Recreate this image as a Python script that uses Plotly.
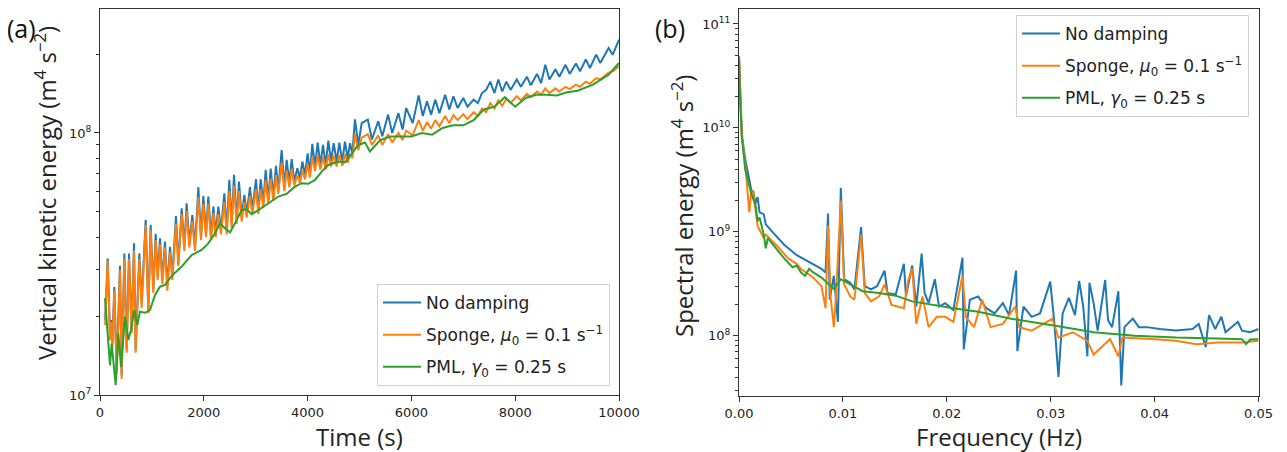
import plotly.graph_objects as go

# ---------------- Panel (a): vertical kinetic energy vs time ----------------
time_s = [100, 148, 193, 212, 238, 276, 321, 385, 417, 469, 514, 559, 610, 655, 687, 758, 803, 880, 931, 976,
          1027, 1073, 1111, 1156, 1201, 1252, 1297, 1349, 1394, 1464, 1509, 1574, 1625, 1670, 1721, 1779, 1830,
          1895, 1946, 1991, 2042, 2087, 2139, 2184, 2229, 2280, 2331, 2396, 2441, 2492, 2537, 2582, 2633, 2678,
          2730, 2781, 2826, 2890, 2935, 3006, 3051, 3096, 3147, 3192, 3244, 3289, 3340, 3391, 3436, 3500, 3552,
          3597, 3648, 3693, 3744, 3802, 3854, 3899, 3950, 4001, 4046, 4091, 4143, 4194, 4245, 4297, 4348, 4400,
          4451, 4502, 4560, 4611, 4669, 4720, 4772, 4817, 4862, 4913, 4977, 5042,
          5160, 5240, 5360, 5440, 5550, 5630, 5750, 5830, 5900, 6025, 6140, 6220, 6300, 6380, 6460, 6540, 6650,
          6730, 6810, 6890, 7000, 7080, 7200, 7280, 7360, 7440, 7520, 7600, 7675, 7750, 7830, 7910, 8030, 8110,
          8225, 8300, 8420, 8500, 8580, 8660, 8775, 8850, 8970, 9050, 9170, 9250, 9360, 9440, 9560, 9640, 9800,
          9880, 10000]

ke_no_damping = [1.93e7, 3.32e7, 1.67e7, 1.93e7, 1.57e7, 2.58e7, 1.245e7, 3.11e7, 1.19e7, 3.47e7, 1.49e7, 3.47e7,
                 1.77e7, 3.79e7, 1.49e7, 3.47e7, 2.24e7, 4.66e7, 2.11e7, 4.46e7, 2.52e7, 4.12e7, 2.83e7, 3.96e7,
                 2.75e7, 3.85e7, 2.59e7, 3.68e7, 2.83e7, 4.82e7, 3.18e7, 5.16e7, 3.68e7, 5.39e7, 3.79e7, 4.86e7,
                 3.68e7, 6.21e7, 4.02e7, 5.75e7, 4.14e7, 5.72e7, 4.02e7, 5.24e7, 4.14e7, 5.24e7, 4.26e7, 5.88e7,
                 4.26e7, 6.62e7, 4.52e7, 6.92e7, 4.66e7, 6.52e7, 4.79e7, 5.8e7, 4.93e7, 6.21e7, 5.08e7, 6.66e7,
                 5.08e7, 6.66e7, 5.39e7, 7.23e7, 5.55e7, 7.31e7, 5.72e7, 7.49e7, 6.06e7, 8.61e7, 6.24e7, 7.89e7,
                 6.43e7, 7.94e7, 6.52e7, 7.33e7, 6.72e7, 7.78e7, 6.92e7, 8.36e7, 7.02e7, 9.08e7, 7.44e7, 9.19e7,
                 7.55e7, 9.0e7, 7.55e7, 9.35e7, 7.78e7, 9.14e7, 7.78e7, 9.19e7, 7.78e7, 9.27e7, 7.99e7, 9.14e7,
                 8.36e7, 1.127e8, 9.0e7, 1.09e8,
                 1.125e8, 9.44e7, 1.108e8, 9.71e7, 1.175e8, 1.0e8, 1.19e8, 1.03e8, 1.245e8, 1.09e8, 1.39e8, 1.16e8,
                 1.32e8, 1.175e8, 1.34e8, 1.19e8, 1.40e8, 1.23e8, 1.38e8, 1.245e8, 1.36e8, 1.26e8, 1.34e8, 1.30e8,
                 1.42e8, 1.46e8, 1.57e8, 1.42e8, 1.60e8, 1.44e8, 1.57e8, 1.46e8, 1.60e8, 1.50e8, 1.64e8, 1.52e8,
                 1.68e8, 1.55e8, 1.82e8, 1.60e8, 1.75e8, 1.64e8, 1.82e8, 1.68e8, 1.84e8, 1.72e8, 1.91e8, 1.77e8,
                 1.99e8, 1.85e8, 2.11e8, 1.99e8, 2.27e8]

ke_sponge = [1.85e7, 3.25e7, 1.62e7, 1.9e7, 1.52e7, 2.5e7, 1.2e7, 3.0e7, 1.15e7, 3.3e7, 1.45e7, 3.3e7,
             1.72e7, 3.55e7, 1.45e7, 3.3e7, 2.15e7, 4.45e7, 2.05e7, 4.25e7, 2.45e7, 3.9e7, 2.75e7, 3.75e7,
             2.65e7, 3.65e7, 2.5e7, 3.5e7, 2.75e7, 4.5e7, 3.1e7, 4.9e7, 3.55e7, 5.05e7, 3.65e7, 4.6e7,
             3.55e7, 5.7e7, 3.9e7, 5.35e7, 4.0e7, 5.35e7, 3.9e7, 4.95e7, 4.0e7, 4.9e7, 4.1e7, 5.45e7,
             4.1e7, 6.0e7, 4.35e7, 6.3e7, 4.5e7, 6.0e7, 4.6e7, 5.45e7, 4.75e7, 5.75e7, 4.9e7, 6.1e7,
             4.9e7, 6.1e7, 5.2e7, 6.6e7, 5.35e7, 6.7e7, 5.5e7, 6.9e7, 5.85e7, 7.7e7, 6.0e7, 7.2e7,
             6.2e7, 7.3e7, 6.3e7, 6.9e7, 6.45e7, 7.2e7, 6.65e7, 7.6e7, 6.75e7, 8.1e7, 7.15e7, 8.2e7,
             7.25e7, 8.1e7, 7.25e7, 8.3e7, 7.45e7, 8.2e7, 7.45e7, 8.25e7, 7.5e7, 8.3e7, 7.7e7, 8.3e7,
             8.0e7, 9.9e7, 8.6e7, 9.6e7,
             9.9e7, 9.0e7, 9.8e7, 9.0e7, 9.9e7, 9.2e7, 1.0e8, 9.4e7, 1.02e8, 9.8e7, 1.12e8, 1.02e8,
             1.10e8, 1.04e8, 1.12e8, 1.06e8, 1.16e8, 1.09e8, 1.17e8, 1.12e8, 1.18e8, 1.13e8, 1.20e8, 1.16e8,
             1.24e8, 1.20e8, 1.30e8, 1.24e8, 1.33e8, 1.27e8, 1.35e8, 1.30e8, 1.38e8, 1.33e8, 1.41e8, 1.37e8,
             1.44e8, 1.40e8, 1.48e8, 1.42e8, 1.48e8, 1.44e8, 1.50e8, 1.47e8, 1.53e8, 1.50e8, 1.57e8, 1.54e8,
             1.62e8, 1.60e8, 1.70e8, 1.72e8, 1.80e8]

time_pml = [96, 193, 225, 257, 302, 353, 405, 482, 546, 597, 661, 719, 771, 867, 963, 1060, 1156, 1252, 1381,
            1574, 1766, 1959, 2087, 2216, 2312, 2408, 2505, 2601, 2730, 2826, 2922, 3051, 3244, 3436, 3597, 3757,
            3886, 4014, 4143, 4271, 4400, 4592, 4720, 4849, 4977, 5106, 5200, 5400, 5600, 5800, 6000, 6200, 6400,
            6600, 6800, 7000, 7200, 7400, 7600, 7800, 8000, 8200, 8400, 8600, 8800, 9000, 9200, 9500, 9800, 10000]

ke_pml = [2.34e7, 1.30e7, 1.57e7, 1.32e7, 1.09e7, 1.72e7, 1.28e7, 1.99e7, 1.62e7, 1.77e7, 2.11e7, 1.85e7, 2.08e7,
          2.06e7, 2.11e7, 2.41e7, 2.59e7, 2.63e7, 2.85e7, 3.09e7, 3.42e7, 3.58e7, 3.79e7, 4.14e7, 4.52e7, 4.33e7,
          4.17e7, 4.52e7, 5.08e7, 5.11e7, 4.9e7, 5.08e7, 5.39e7, 5.72e7, 5.86e7, 6.24e7, 6.43e7, 6.4e7, 6.62e7,
          7.12e7, 7.55e7, 7.78e7, 7.72e7, 8.36e7, 9.0e7, 9.2e7, 8.5e7, 9.4e7, 9.7e7, 9.7e7, 9.7e7, 1.0e8, 9.85e7,
          1.045e8, 1.07e8, 1.07e8, 1.12e8, 1.23e8, 1.26e8, 1.37e8, 1.26e8, 1.36e8, 1.40e8, 1.40e8, 1.39e8, 1.43e8,
          1.45e8, 1.53e8, 1.67e8, 1.85e8]

# ---------------- Panel (b): spectral energy vs frequency ----------------
freq_no_damping = [0.0, 0.00012, 0.00028, 0.0006, 0.00099, 0.00119, 0.00139, 0.00159, 0.00179, 0.00198, 0.00238,
                   0.00258, 0.00317, 0.00437, 0.00556, 0.00675, 0.00794, 0.00833, 0.00857, 0.00873, 0.00913,
                   0.00952, 0.0098, 0.01012, 0.01071, 0.01111, 0.01175, 0.0121, 0.0127, 0.01329, 0.01401, 0.01429,
                   0.01508, 0.01587, 0.01607, 0.01667, 0.01706, 0.01758, 0.01786, 0.01825, 0.01885, 0.01925,
                   0.01984, 0.02063, 0.02151, 0.02163, 0.02222, 0.02302, 0.02381, 0.0246, 0.0254, 0.02599, 0.02667,
                   0.02679, 0.02738, 0.02817, 0.02897, 0.02996, 0.03036, 0.03075, 0.03115, 0.03175, 0.03234,
                   0.03274, 0.03313, 0.03353, 0.03373, 0.03413, 0.03452, 0.03524, 0.03552, 0.03591, 0.03651,
                   0.03679, 0.0371, 0.0379, 0.03849, 0.03929, 0.04048, 0.04206, 0.04365, 0.04425, 0.04492,
                   0.04524, 0.04583, 0.04643, 0.04683, 0.04802, 0.04841, 0.0492, 0.05]
se_no_damping = [4.86e10, 1.81e10, 8.5e9, 4.99e9, 3.16e9, 2.52e9, 2.43e9, 1.86e9, 2.16e9, 1.54e9, 1.48e9,
                 1.18e9, 1.01e9, 7.48e8, 5.96e8, 5.11e8, 4.4e8, 4.07e8, 1.5e9, 2.22e8, 3.78e8,
                 1.36e8, 2.65e9, 3.5e8, 3.24e8, 2.79e8, 1.11e9, 3.0e8, 2.79e8, 3.0e8, 4.23e8, 2.58e8,
                 2.49e8, 4.92e8, 2.39e8, 4.74e8, 1.91e8, 6.18e8, 2.58e8, 2.06e8, 3.5e8, 1.91e8,
                 2.06e8, 1.77e8, 5.64e8, 7.38e7, 2.22e8, 2.39e8, 1.84e8, 1.64e8, 2.06e8, 1.58e8, 4.23e8,
                 7.11e7, 1.91e8, 1.52e8, 1.64e8, 3.32e8, 1.30e8, 4.02e7, 1.64e8, 2.31e8, 1.58e8,
                 3.37e8, 1.91e8, 6.34e7, 3.24e8, 2.06e8, 1.12e8, 3.44e8, 1.41e8, 1.21e8, 2.68e8,
                 3.33e7, 1.21e8, 1.46e8, 1.21e8, 1.21e8, 1.16e8, 1.12e8, 1.16e8, 1.30e8, 7.78e7,
                 1.58e8, 1.16e8, 1.52e8, 1.08e8, 1.36e8, 1.12e8, 1.08e8, 1.16e8]

freq_sponge = [0.0, 0.00012, 0.00028, 0.0006, 0.00099, 0.00119, 0.00139, 0.00179, 0.00238, 0.00258, 0.00357,
               0.00476, 0.00556, 0.00595, 0.00714, 0.00794, 0.00833, 0.00857, 0.00881, 0.00913, 0.00933, 0.0098,
               0.01012, 0.01071, 0.01111, 0.01175, 0.0121, 0.0127, 0.01349, 0.01401, 0.01468, 0.01587, 0.01627,
               0.01667, 0.01706, 0.01766, 0.01825, 0.01905, 0.01984, 0.02063, 0.02151, 0.02183, 0.02262, 0.02341,
               0.02421, 0.0254, 0.02659, 0.02698, 0.02817, 0.03016, 0.03075, 0.03214, 0.03353, 0.03413, 0.03571,
               0.03651, 0.0369, 0.04008, 0.04206, 0.04405, 0.04603, 0.04841, 0.05]
se_sponge = [4.86e10, 1.81e10, 8.0e9, 4.5e9, 1.54e9, 2.52e9, 2.33e9, 1.14e9, 8.71e8, 9.4e8, 7.48e8,
             5.52e8, 4.92e8, 4.4e8, 3.63e8, 3.0e8, 1.84e8, 1.14e9, 2.39e8, 1.21e8, 2.39e8, 2.0e9,
             3.12e8, 2.39e8, 2.22e8, 9.4e8, 2.58e8, 2.14e8, 2.39e8, 3.12e8, 1.98e8, 1.84e8, 3.37e8,
             4.4e8, 1.30e8, 2.39e8, 1.21e8, 1.52e8, 1.52e8, 1.36e8, 3.78e8, 1.52e8, 1.21e8, 2.22e8,
             1.21e8, 1.30e8, 1.91e8, 1.21e8, 1.12e8, 1.46e8, 9.6e7, 1.08e8, 8.93e7, 6.59e7, 9.27e7,
             6.34e7, 9.6e7, 9.27e7, 8.93e7, 8.27e7, 8.6e7, 8.6e7, 8.93e7]

freq_pml = [0.0, 0.00012, 0.00028, 0.0006, 0.00119, 0.00159, 0.00179, 0.00198, 0.00238, 0.00258, 0.00277,
            0.00317, 0.00437, 0.00516, 0.00556, 0.00595, 0.00635, 0.00675, 0.00714, 0.00794, 0.00873, 0.00913,
            0.0098, 0.01071, 0.0119, 0.01349, 0.01508, 0.01667, 0.01825, 0.02063, 0.02302, 0.02619, 0.03016,
            0.03413, 0.0381, 0.04206, 0.04603, 0.04841, 0.0488, 0.0492, 0.05]
se_pml = [4.86e10, 1.7e10, 8.0e9, 3.98e9, 2.33e9, 1.79e9, 1.27e9, 1.37e9, 9.4e8, 6.94e8, 8.71e8,
          7.77e8, 5.52e8, 4.56e8, 4.74e8, 4.07e8, 3.78e8, 4.4e8, 4.07e8, 3.63e8, 3.05e8, 2.83e8,
          3.5e8, 3.12e8, 2.68e8, 2.58e8, 2.43e8, 2.14e8, 2.01e8, 1.84e8, 1.70e8, 1.46e8, 1.26e8,
          1.08e8, 1.0e8, 9.6e7, 9.41e7, 9.27e7, 8.27e7, 9.2e7, 9.27e7]

series_names = ["No damping",
                "Sponge, <i>μ</i><sub>0</sub> = 0.1 s<sup>−1</sup>",
                "PML, <i>γ</i><sub>0</sub> = 0.25 s"]
colors = ["#1f77b4", "#ff7f0e", "#2ca02c"]

time_ticks = [0, 2000, 4000, 6000, 8000, 10000]
time_ticktext = ["0", "2000", "4000", "6000", "8000", "10000"]
freq_ticks = [0.0, 0.01, 0.02, 0.03, 0.04, 0.05]
freq_ticktext = ["0.00", "0.01", "0.02", "0.03", "0.04", "0.05"]

# The page body adds an 8 px margin; the figure is sized so that it ends at the window edge.
SW, SH = 1287, 452
OFF = 8
W, H = SW - OFF, SH - OFF


def px(sx):
    return (sx - OFF) / W


def py(sy):
    return (SH - sy) / H


fig = go.Figure()
left_data = [(time_s, ke_no_damping), (time_s, ke_sponge), (time_pml, ke_pml)]
right_data = [(freq_no_damping, se_no_damping), (freq_sponge, se_sponge), (freq_pml, se_pml)]
for i, (xv, yv) in enumerate(left_data):
    fig.add_trace(go.Scatter(x=xv, y=yv, mode="lines", name=series_names[i], legendgroup="a%d" % i,
                             line=dict(color=colors[i], width=2), xaxis="x", yaxis="y", legend="legend"))
for i, (xv, yv) in enumerate(right_data):
    fig.add_trace(go.Scatter(x=xv, y=yv, mode="lines", name=series_names[i], legendgroup="b%d" % i,
                             line=dict(color=colors[i], width=2), xaxis="x2", yaxis="y2", legend="legend2"))

tick_font = dict(family="DejaVu Sans", size=13, color="#222")
axis_common = dict(showline=True, linecolor="#333", linewidth=1, mirror=True, ticks="outside",
                   ticklen=5, tickcolor="#333", showgrid=False, zeroline=False, tickfont=tick_font,
                   automargin=False)

minor_left = [v * 10 ** e for e in (7, 8) for v in range(2, 10)]
minor_right = [v * 10 ** e for e in (7, 8, 9, 10) for v in range(2, 10)]

legend_common = dict(bgcolor="rgba(255,255,255,0.85)", bordercolor="#d0d0d0", borderwidth=1,
                     font=dict(family="DejaVu Sans", size=17, color="#222"),
                     traceorder="grouped", tracegroupgap=7, itemwidth=38)

fig.update_layout(
    template="none",
    width=W, height=H, margin=dict(l=0, r=0, t=0, b=0, autoexpand=False),
    paper_bgcolor="white", plot_bgcolor="white", showlegend=True,
    xaxis=dict(domain=[px(100), px(619)], range=[0, 10000], tickvals=time_ticks, ticktext=time_ticktext,
               anchor="y", **axis_common),
    yaxis=dict(domain=[py(395), py(8.5)], type="log", range=[7.0, 8.475],
               tickvals=[1e7, 1e8], ticktext=["10<sup>7</sup>", "10<sup>8</sup>"], anchor="x",
               minor=dict(tickmode="array", tickvals=minor_left, ticks="outside", ticklen=3, tickcolor="#333"),
               **axis_common),
    xaxis2=dict(domain=[px(739), px(1258.5)], range=[0, 0.05], tickvals=freq_ticks, ticktext=freq_ticktext,
                anchor="y2", **axis_common),
    yaxis2=dict(domain=[py(396), py(8.5)], type="log", range=[7.42, 11.149],
                tickvals=[1e8, 1e9, 1e10, 1e11],
                ticktext=["10<sup>8</sup>", "10<sup>9</sup>", "10<sup>10</sup>", "10<sup>11</sup>"], anchor="x2",
                minor=dict(tickmode="array", tickvals=minor_right, ticks="outside", ticklen=3, tickcolor="#333"),
                **axis_common),
    legend=dict(x=px(610), y=py(386), xanchor="right", yanchor="bottom", **legend_common),
    legend2=dict(x=px(1249), y=py(15), xanchor="right", yanchor="top", **legend_common),
)

title_font = dict(family="Open Sans", size=24, color="#222")
label_font = dict(family="Open Sans", size=25, color="#111")
annotations = [
    dict(text="Time (s)", x=px(359.5), y=py(436), xref="paper", yref="paper", showarrow=False,
         font=title_font, xanchor="center", yanchor="middle"),
    dict(text="Frequency (Hz)", x=px(999), y=py(436), xref="paper", yref="paper", showarrow=False,
         font=title_font, xanchor="center", yanchor="middle"),
    dict(text="Vertical kinetic energy (m<sup>4</sup> s<sup>−2</sup>)", x=px(46), y=py(193),
         xref="paper", yref="paper", showarrow=False, font=title_font, textangle=-90,
         xanchor="center", yanchor="middle"),
    dict(text="Spectral energy (m<sup>4</sup> s<sup>−2</sup>)", x=px(682), y=py(206),
         xref="paper", yref="paper", showarrow=False, font=title_font, textangle=-90,
         xanchor="center", yanchor="middle"),
    dict(text="(a)", x=px(21), y=py(9), xref="paper", yref="paper", showarrow=False,
         font=label_font, xanchor="center", yanchor="top"),
    dict(text="(b)", x=px(670), y=py(9), xref="paper", yref="paper", showarrow=False,
         font=label_font, xanchor="center", yanchor="top"),
]
fig.update_layout(annotations=annotations)

fig.write_html("out.html")
